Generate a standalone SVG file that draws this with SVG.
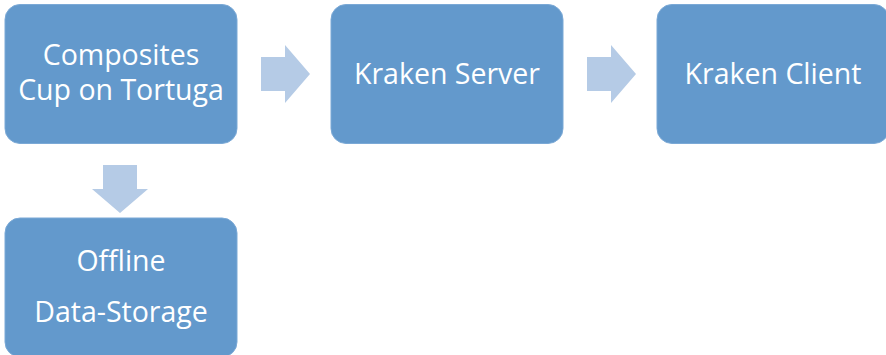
<svg xmlns="http://www.w3.org/2000/svg" width="886" height="355" viewBox="0 0 886 355">
<style>
.box{fill:#6399CC;stroke:#7BA9D6;stroke-width:1}
.arr{fill:#B5CBE6}
.t{font-family:"Open Sans","Noto Sans",sans-serif;font-size:28.5px;fill:#FFFFFF;text-anchor:middle}
</style>
<rect width="886" height="355" fill="#FFFFFF"/>
<g id="connectors">
<polygon class="arr" points="261,57 285,57 285,45 310,74 285,103 285,91 261,91"/>
<polygon class="arr" points="587,57 611,57 611,45 636,74 611,103 611,91 587,91"/>
<polygon class="arr" points="103,165 137,165 137,189 148,189 120,213 92,189 103,189"/>
</g>
<g id="node-composites">
<rect class="box" x="5" y="4.5" width="232" height="139" rx="15"/>
<text class="t" x="121" y="65">Composites</text>
<text class="t" x="121" y="100">Cup on Tortuga</text>
</g>
<g id="node-server">
<rect class="box" x="331" y="4.5" width="232" height="139" rx="15"/>
<text class="t" x="447" y="84">Kraken Server</text>
</g>
<g id="node-client">
<rect class="box" x="657" y="4.5" width="232" height="139" rx="15"/>
<text class="t" x="773" y="84">Kraken Client</text>
</g>
<g id="node-offline">
<rect class="box" x="5" y="218" width="232" height="139" rx="15"/>
<text class="t" x="121" y="271">Offline</text>
<text class="t" x="121" y="322">Data-Storage</text>
</g>
</svg>
